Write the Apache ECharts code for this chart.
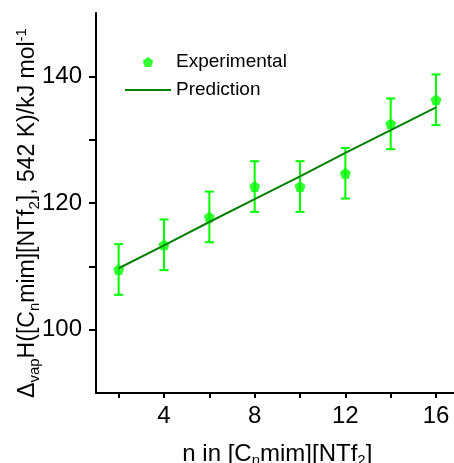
<!DOCTYPE html>
<html>
<head>
<meta charset="utf-8">
<script src="https://cdn.jsdelivr.net/npm/echarts@6/dist/echarts.min.js"></script>
<style>html,body{margin:0;padding:0;background:#fff}#c{width:454px;height:463px}</style>
</head>
<body>
<div id="c"></div>
<script>
const nValues = [2, 4, 6, 8, 10, 12, 14, 16];
const expValues = [109.5, 113.4, 117.8, 122.6, 122.6, 124.7, 132.5, 136.3];
const errValues = [4, 4, 4, 4, 4, 4, 4, 4];
const predValues = [109.7, 113.3, 117.0, 120.6, 124.2, 127.9, 131.5, 135.1];
const xTickValues = [2, 4, 6, 8, 10, 12, 14, 16];
const xLabelValues = [4, 8, 12, 16];
const yTickValues = [100, 110, 120, 130, 140];
const yLabelValues = [100, 120, 140];

const FONT = "'Liberation Sans', Arial, sans-serif";
const pentagon = 'path://M0,-1L0.951,-0.309L0.588,0.809L-0.588,0.809L-0.951,-0.309Z';
const lineIcon = 'path://M0,0L46,0L46,2L0,2Z';

const chart = echarts.init(document.getElementById('c'));
const xRich = {
  m: {fontSize: 24, lineHeight: 28, fontFamily: FONT, color: '#000'},
  s: {fontSize: 15, lineHeight: 15, verticalAlign: 'bottom', fontFamily: FONT, color: '#000'}
};
const yRich = {
  m: {fontSize: 23, lineHeight: 28, fontFamily: FONT, color: '#000'},
  s: {fontSize: 15, lineHeight: 15, verticalAlign: 'bottom', fontFamily: FONT, color: '#000'},
  p: {fontSize: 15, lineHeight: 15, verticalAlign: 'top', fontFamily: FONT, color: '#000'}
};

chart.setOption({
  animation: false,
  backgroundColor: '#fff',
  grid: {left: 96, top: 13, width: 362.7, height: 380, containLabel: false, outerBoundsMode: 'none'},
  legend: {
    orient: 'vertical',
    left: 125, top: 52, padding: 0,
    itemWidth: 46, itemHeight: 10, itemGap: 8,
    textStyle: {fontSize: 19, fontFamily: FONT, color: '#000', lineHeight: 20},
    data: [{name: 'Experimental', icon: pentagon}, {name: 'Prediction', icon: lineIcon}]
  },
  xAxis: {
    type: 'value', min: 1, max: 17,
    splitLine: {show: false},
    axisLine: {lineStyle: {color: '#000', width: 2}},
    axisTick: {length: 5, lineStyle: {color: '#000', width: 2}, customValues: xTickValues},
    axisLabel: {fontSize: 24, fontFamily: FONT, color: '#000', margin: 11, customValues: xLabelValues},
    name: '{m|n in [C}{s|n}{m|mim][NTf}{s|2}{m|]}',
    nameLocation: 'middle', nameGap: 47, nameMoveOverlap: false,
    nameTextStyle: {rich: xRich}
  },
  yAxis: {
    type: 'value', min: 90, max: 150,
    splitLine: {show: false},
    axisLine: {lineStyle: {color: '#000', width: 2}},
    axisTick: {length: 7, lineStyle: {color: '#000', width: 2}, customValues: yTickValues},
    axisLabel: {fontSize: 24, fontFamily: FONT, color: '#000', margin: 14, customValues: yLabelValues},
    name: '{m|Δ}{s|vap}{m|H([C}{s|n}{m|mim][NTf}{s|2}{m|], 542 K)/kJ mol}{p|-1}',
    nameLocation: 'middle', nameRotate: 90, nameGap: 54, nameMoveOverlap: false,
    nameTextStyle: {rich: yRich, padding: [0, 20, 0, 0]}
  },
  series: [
    {
      name: 'errbars', type: 'custom', z: 2,
      data: nValues.map((n, i) => [n, expValues[i] - errValues[i], expValues[i] + errValues[i]]),
      renderItem: function (params, api) {
        const lo = api.coord([api.value(0), api.value(1)]);
        const hi = api.coord([api.value(0), api.value(2)]);
        const hw = 4.5;
        const st = {stroke: '#00ff00', lineWidth: 2};
        return {type: 'group', children: [
          {type: 'line', shape: {x1: lo[0], y1: lo[1], x2: hi[0], y2: hi[1]}, style: st},
          {type: 'line', shape: {x1: lo[0] - hw, y1: lo[1], x2: lo[0] + hw, y2: lo[1]}, style: st},
          {type: 'line', shape: {x1: hi[0] - hw, y1: hi[1], x2: hi[0] + hw, y2: hi[1]}, style: st}
        ]};
      }
    },
    {
      name: 'Experimental', type: 'scatter', z: 3,
      symbol: pentagon, symbolSize: 11,
      itemStyle: {color: '#00ff00'},
      data: nValues.map((n, i) => [n, expValues[i]])
    },
    {
      name: 'Prediction', type: 'line', z: 4,
      symbol: 'none',
      lineStyle: {color: '#008000', width: 2},
      itemStyle: {color: '#008000'},
      data: nValues.map((n, i) => [n, predValues[i]])
    }
  ]
});
</script>
</body>
</html>
